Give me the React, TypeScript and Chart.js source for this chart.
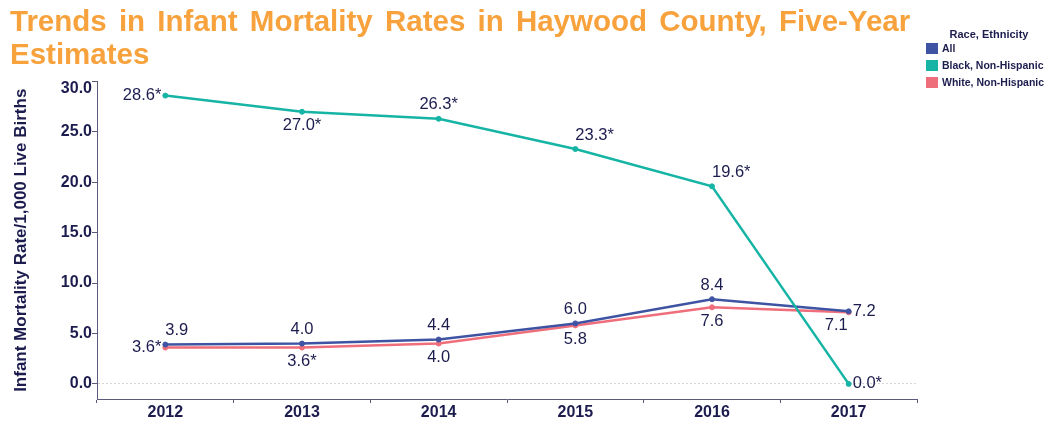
import React, { useEffect, useRef } from "react";
import { Chart, registerables } from "chart.js";

Chart.register(...registerables);

const years = ["2012", "2013", "2014", "2015", "2016", "2017"];
const allValues = [3.9, 4.0, 4.4, 6.0, 8.4, 7.2];
const blackValues = [28.6, 27.0, 26.3, 23.3, 19.6, 0.0];
const whiteValues = [3.6, 3.6, 4.0, 5.8, 7.6, 7.1];
const allFlags = [false, false, false, false, false, false];
const blackFlags = [true, true, true, true, true, true];
const whiteFlags = [true, true, false, false, false, false];
const yTickValues = [0, 5, 10, 15, 20, 25, 30];
const seriesNames = ["All", "Black, Non-Hispanic", "White, Non-Hispanic"];
const titleText = "Trends in Infant Mortality Rates in Haywood County, Five-Year Estimates";
const yAxisTitle = "Infant Mortality Rate/1,000 Live Births";
const legendTitle = "Race, Ethnicity";

const allLabelPos = ["aboveRight", "above", "above", "above", "above", "right"];
const blackLabelPos = ["left", "below", "above", "aboveRight", "aboveRight", "right"];
const whiteLabelPos = ["left", "below", "below", "below", "below", "belowLeft"];

const FONT = '"Liberation Sans", Arial, Helvetica, sans-serif';
const NAVY = "#1c1c4e";
const AXIS = "#5a5a7c";
const ORANGE = "#f7a23c";
const COLORS = ["#3e54a3", "#15b4a4", "#ef6e7b"];
const Y_MIN = -1.5;
const Y_MAX = 30;

const labelPlugin = {
  id: "pointValueLabels",
  afterDatasetsDraw(chart: any) {
    const ctx = chart.ctx;
    ctx.save();
    ctx.font = `16.5px ${FONT}`;
    ctx.fillStyle = NAVY;
    ctx.textBaseline = "middle";
    chart.data.datasets.forEach((ds: any, di: number) => {
      const meta = chart.getDatasetMeta(di);
      meta.data.forEach((pt: any, i: number) => {
        const v = ds.data[i] as number;
        const text = v.toFixed(1) + (ds.labelFlags[i] ? "*" : "");
        let x = pt.x;
        let y = pt.y;
        let align = "center";
        switch (ds.labelPos[i]) {
          case "above":
            y -= 14;
            break;
          case "below":
            y += 14;
            break;
          case "left":
            x -= 4;
            align = "right";
            break;
          case "right":
            x += 4;
            align = "left";
            break;
          case "aboveRight":
            y -= 14;
            align = "left";
            break;
          case "belowLeft":
            y += 13;
            x -= 1;
            align = "right";
            break;
        }
        ctx.textAlign = align;
        ctx.fillText(text, x, y);
      });
    });
    ctx.restore();
  },
  afterDraw(chart: any) {
    // top tick label kept flush inside the axis extent
    const { ctx } = chart;
    const yScale = chart.scales.y;
    ctx.save();
    ctx.font = `bold 16px ${FONT}`;
    ctx.fillStyle = NAVY;
    ctx.textAlign = "right";
    ctx.textBaseline = "top";
    const top = yScale.getPixelForValue(Y_MAX);
    ctx.fillText(Y_MAX.toFixed(1), yScale.right - 5, top - 1);
    ctx.restore();
  },
};

export default function App() {
  const canvasRef = useRef<HTMLCanvasElement | null>(null);

  useEffect(() => {
    if (!canvasRef.current) return;
    Chart.defaults.font.family = FONT;
    const chart = new Chart(canvasRef.current, {
      type: "line",
      data: {
        labels: years,
        datasets: [
          {
            label: seriesNames[1],
            data: blackValues,
            borderColor: COLORS[1],
            backgroundColor: COLORS[1],
            labelPos: blackLabelPos,
            labelFlags: blackFlags,
          },
          {
            label: seriesNames[0],
            data: allValues,
            borderColor: COLORS[0],
            backgroundColor: COLORS[0],
            labelPos: allLabelPos,
            labelFlags: allFlags,
          },
          {
            label: seriesNames[2],
            data: whiteValues,
            borderColor: COLORS[2],
            backgroundColor: COLORS[2],
            labelPos: whiteLabelPos,
            labelFlags: whiteFlags,
          },
        ] as any,
      },
      options: {
        animation: false,
        responsive: false,
        maintainAspectRatio: false,
        layout: { padding: { top: 73.5, right: 139, left: 0, bottom: 0 } },
        elements: {
          line: { borderWidth: 2.5, tension: 0 },
          point: { radius: 2.5, borderWidth: 1, hoverRadius: 2.5 },
        },
        plugins: {
          legend: { display: false },
          title: { display: false },
          tooltip: { enabled: false },
        },
        scales: {
          x: {
            type: "category",
            offset: true,
            grid: {
              offset: true,
              drawOnChartArea: false,
              drawTicks: true,
              tickLength: 4,
              tickColor: AXIS,
              tickWidth: 1,
            },
            border: { color: AXIS, width: 1 },
            ticks: {
              color: NAVY,
              font: { size: 16, weight: "bold", family: FONT },
              padding: 0,
              maxRotation: 0,
              autoSkip: false,
            },
            afterFit: (s: any) => {
              s.height = 19;
            },
          },
          y: {
            min: Y_MIN,
            max: Y_MAX,
            afterBuildTicks: (s: any) => {
              s.ticks = yTickValues.map((v) => ({ value: v }));
            },
            grid: {
              color: (c: any) => (c.tick && c.tick.value === 0 ? "#d6d6d6" : "rgba(0,0,0,0)"),
              lineWidth: 1,
              drawTicks: true,
              tickLength: 5,
              tickColor: AXIS,
              tickWidth: 1,
            },
            border: { color: AXIS, width: 1, dash: [2, 2] },
            ticks: {
              color: NAVY,
              font: { size: 16, weight: "bold", family: FONT },
              padding: 0,
              callback: (v: any) => (Number(v) === Y_MAX ? "" : Number(v).toFixed(1)),
            },
            title: {
              display: true,
              text: yAxisTitle,
              color: NAVY,
              font: { size: 17, weight: "bold", family: FONT },
              padding: { top: 3, bottom: 0 },
            },
            afterFit: (s: any) => {
              s.width = 89;
            },
          },
        },
      },
      plugins: [labelPlugin],
    } as any);
    return () => chart.destroy();
  }, []);

  const legendItems = [
    { name: seriesNames[0], color: COLORS[0] },
    { name: seriesNames[1], color: COLORS[1] },
    { name: seriesNames[2], color: COLORS[2] },
  ];

  return (
    <div style={{ position: "relative", width: 1048, height: 410, fontFamily: FONT }}>
      <canvas ref={canvasRef} width={1048} height={410} style={{ display: "block", width: 1048, height: 410 }} />
      <div
        style={{
          position: "absolute",
          left: 2,
          top: -4,
          width: 925,
          fontSize: 29.5,
          lineHeight: "33px",
          fontWeight: "bold",
          wordSpacing: "4px",
          color: ORANGE,
        }}
      >
        {titleText}
      </div>
      <div
        style={{
          position: "absolute",
          left: 916,
          top: 20,
          width: 130,
          textAlign: "center",
          fontSize: 11,
          lineHeight: "13px",
          fontWeight: "bold",
          color: NAVY,
        }}
      >
        {legendTitle}
      </div>
      {legendItems.map((it, i) => (
        <div
          key={it.name}
          style={{
            position: "absolute",
            left: 918,
            top: 31.5 + i * 17,
            height: 17,
            display: "flex",
            alignItems: "center",
            whiteSpace: "nowrap",
          }}
        >
          <div style={{ width: 12, height: 11, background: it.color, marginRight: 4 }} />
          <span style={{ fontSize: 10.5, fontWeight: "bold", color: NAVY }}>{it.name}</span>
        </div>
      ))}
    </div>
  );
}
